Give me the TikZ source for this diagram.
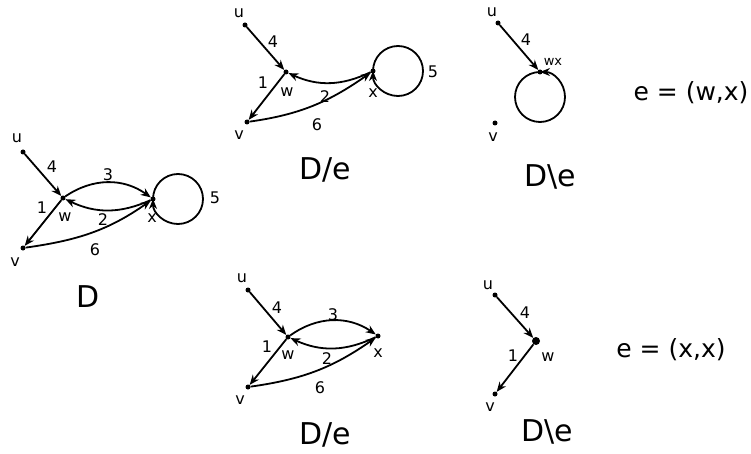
\documentclass[tikz,border=0pt]{standalone}
\usepackage{fontspec}
\setmainfont{DejaVu Sans}
\usetikzlibrary{arrows.meta}

\tikzset{
  vtx/.style={circle,fill,inner sep=0pt,minimum size=5pt},
  bigvtx/.style={circle,fill,inner sep=0pt,minimum size=8pt},
  lbl/.style={font=\fontsize{16}{16}\selectfont,inner sep=0pt},
  smalllbl/.style={font=\fontsize{13}{13}\selectfont,inner sep=0pt},
  title/.style={font=\fontsize{30}{30}\selectfont,inner sep=0pt},
  edg/.style={->,line width=1.8pt}
}

\begin{document}
\begin{tikzpicture}[x=1pt,y=1pt,>={Stealth[length=10pt,width=8pt]}]
  \useasboundingbox (0,0) rectangle (751,453);
  % the digraph D
  \begin{scope}[shift={(63,255)}]
    \node[vtx] (u1) at (-40,46) {};
    \node[vtx] (w1) at (0,0) {};
    \node[vtx] (x1) at (90,-1) {};
    \node[vtx] (v1) at (-40,-50) {};
    \draw[edg] (u1) -- (w1);
    \draw[edg] (w1) -- (v1);
    \draw[edg] (w1) to[bend left=35] (x1);
    \draw[edg] (x1) to[bend left=25] (w1);
    \draw[edg] (v1) to[out=8,in=-145] (x1);
    \draw[edg] (x1.center) arc[start angle=180,end angle=-180,radius=25pt];
    \node[lbl] (nu1) at (-46,60) {u};
    \node[lbl] (nw1) at (2,-19) {w};
    \node[lbl] (nx1) at (89,-20) {x};
    \node[lbl] (nv1) at (-48,-64) {v};
    \node[lbl] (l4a) at (-11,31) {4};
    \node[lbl] (l3a) at (45,23) {3};
    \node[lbl] (l1a) at (-21,-10) {1};
    \node[lbl] (l2a) at (40,-22) {2};
    \node[lbl] (l6a) at (32,-52) {6};
    \node[lbl] (l5a) at (152,0) {5};
    \node[title] (tD) at (25,-99) {D};
  \end{scope}
  % D/e for e = (w,x)
  \begin{scope}[shift={(286,381)}]
    \node[vtx] (u2) at (-41,47) {};
    \node[vtx] (w2) at (0,0) {};
    \node[vtx] (x2) at (87,1) {};
    \node[vtx] (v2) at (-39,-50) {};
    \draw[edg] (u2) -- (w2);
    \draw[edg] (w2) -- (v2);
    \draw[edg] (x2) to[bend left=25] (w2);
    \draw[edg] (v2) to[out=8,in=-145] (x2);
    \draw[edg] (x2.center) arc[start angle=180,end angle=-180,radius=25pt];
    \node[lbl] (nu2) at (-47,59) {u};
    \node[lbl] (nw2) at (1,-20) {w};
    \node[lbl] (nx2) at (87,-21) {x};
    \node[lbl] (nv2) at (-47,-63) {v};
    \node[lbl] (l4b) at (-13,30) {4};
    \node[lbl] (l1b) at (-23,-11) {1};
    \node[lbl] (l2b) at (39,-25) {2};
    \node[lbl] (l6b) at (31,-53) {6};
    \node[lbl] (l5b) at (147,0) {5};
    \node[title] (tDe1) at (39,-98) {D/e};
  \end{scope}
  % D\e for e = (w,x)
  \begin{scope}[shift={(540,381)}]
    \node[vtx] (u3) at (-42,49) {};
    \node[vtx] (wx3) at (0,0) {};
    \node[vtx] (v3) at (-45,-51) {};
    \draw[edg] (u3) -- (wx3);
    \draw[edg] (wx3.center) arc[start angle=90,end angle=450,radius=25pt];
    \node[lbl] (nu3) at (-48,60) {u};
    \node[smalllbl] (nwx3) at (13,10) {wx};
    \node[lbl] (nv3) at (-47,-65) {v};
    \node[lbl] (l4c) at (-14,32) {4};
    \node[title] (tDd1) at (10,-105) {D\textbackslash e};
  \end{scope}
  \node[title,font=\fontsize{25}{25}\selectfont] (ewx) at (691,360) {e = (w,x)};
  % D/e for e = (x,x)
  \begin{scope}[shift={(288,116)}]
    \node[vtx] (u4) at (-40,47) {};
    \node[vtx] (w4) at (0,0) {};
    \node[vtx] (x4) at (90,1) {};
    \node[vtx] (v4) at (-40,-50) {};
    \draw[edg] (u4) -- (w4);
    \draw[edg] (w4) -- (v4);
    \draw[edg] (w4) to[bend left=35] (x4);
    \draw[edg] (x4) to[bend left=25] (w4);
    \draw[edg] (v4) to[out=8,in=-145] (x4);
    \node[lbl] (nu4) at (-46,59) {u};
    \node[lbl] (nw4) at (0,-18) {w};
    \node[lbl] (nx4) at (90,-16) {x};
    \node[lbl] (nv4) at (-48,-63) {v};
    \node[lbl] (l4d) at (-11,29) {4};
    \node[lbl] (l3d) at (45,22) {3};
    \node[lbl] (l1d) at (-21,-10) {1};
    \node[lbl] (l2d) at (39,-22) {2};
    \node[lbl] (l6d) at (32,-51) {6};
    \node[title] (tDe2) at (37,-98) {D/e};
  \end{scope}
  % D\e for e = (x,x)
  \begin{scope}[shift={(536,112)}]
    \node[vtx] (u5) at (-41,46) {};
    \node[bigvtx] (w5) at (0,0) {};
    \node[vtx] (v5) at (-41,-53) {};
    \draw[edg] (u5) -- (w5);
    \draw[edg] (w5) -- (v5);
    \node[lbl] (nu5) at (-48,56) {u};
    \node[lbl] (nw5) at (12,-16) {w};
    \node[lbl] (nv5) at (-46,-66) {v};
    \node[lbl] (l4e) at (-11,28) {4};
    \node[lbl] (l1e) at (-23,-15) {1};
    \node[title] (tDd2) at (11,-91) {D\textbackslash e};
  \end{scope}
  \node[title,font=\fontsize{25}{25}\selectfont] (exx) at (671,103) {e = (x,x)};
\end{tikzpicture}
\end{document}
